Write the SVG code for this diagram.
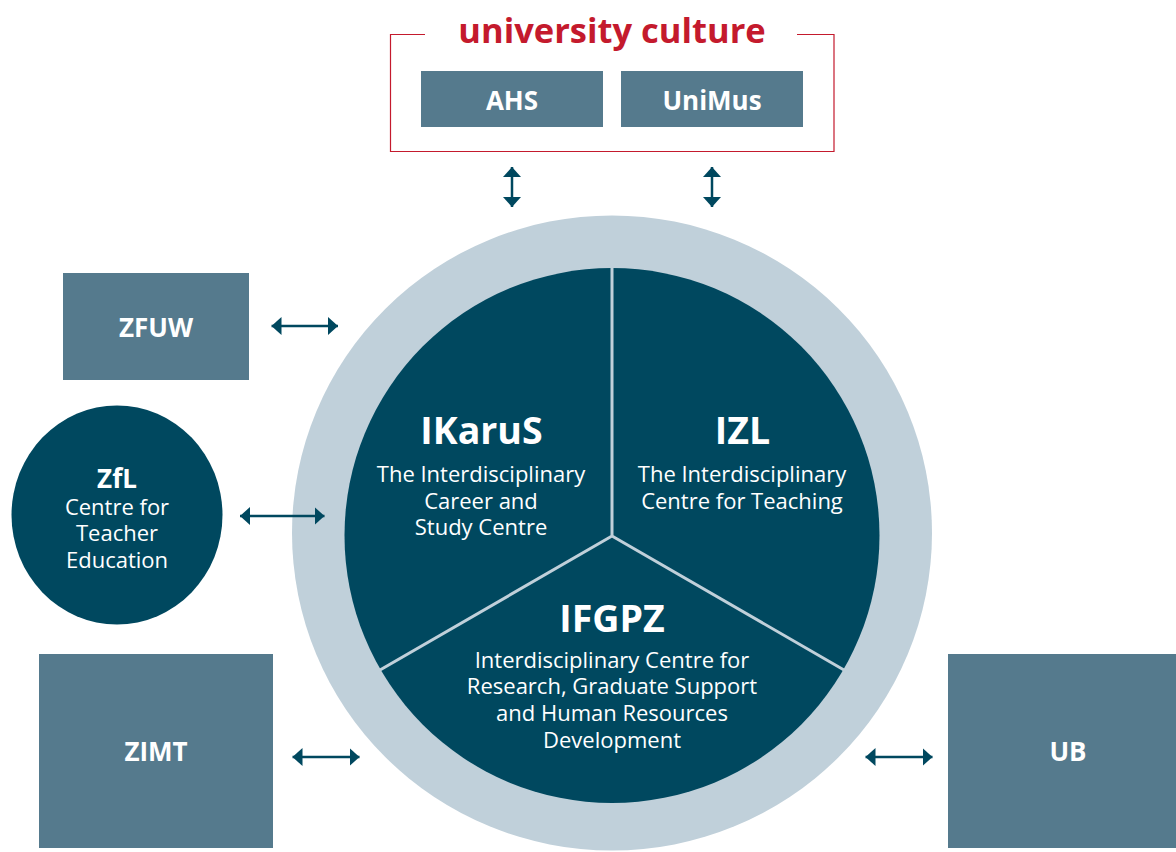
<svg xmlns="http://www.w3.org/2000/svg" width="1176" height="852" viewBox="0 0 1176 852">
<style>
.box{fill:#557a8d}
.dark{fill:#00485f}
.lbl{font-family:"Open Sans","Liberation Sans",sans-serif;fill:#fff;text-anchor:middle}
.b24{font-weight:700;font-size:26px}
.b36{font-weight:700;font-size:37.5px}
.r22{font-weight:400;font-size:22px}
.conn{stroke:#00485f;stroke-width:2.5;fill:none;marker-start:url(#ah);marker-end:url(#ah)}
.sep{stroke:#c0d0da;stroke-width:3;fill:none}
</style>
<defs>
<marker id="ah" viewBox="0 0 10 18" refX="10" refY="9" markerWidth="10" markerHeight="18" markerUnits="userSpaceOnUse" orient="auto-start-reverse">
<path d="M0,0 L10,9 L0,18 Z" fill="#00485f"/>
</marker>
</defs>
<rect width="1176" height="852" fill="#fff"/>

<g id="university-culture">
<path d="M425,34.5 H390.5 V151.5 H834 V34.5 H797" fill="none" stroke="#c41a2d" stroke-width="1.2"/>
<text x="612" y="43" font-family="Open Sans,Liberation Sans,sans-serif" font-weight="700" font-size="34.5" fill="#c41a2d" text-anchor="middle">university culture</text>
</g>
<g id="AHS">
<rect class="box" x="421" y="71" width="182" height="56"/>
<text class="lbl b24" x="512" y="110">AHS</text>
</g>
<g id="UniMus">
<rect class="box" x="621" y="71" width="182" height="56"/>
<text class="lbl b24" x="712" y="110">UniMus</text>
</g>

<g id="core">
<ellipse cx="612" cy="533" rx="320" ry="317.5" fill="#c0d0da"/>
<circle class="dark" cx="612" cy="535.5" r="267.5"/>
<path class="sep" d="M612,536 V268 M612,536 L380,670 M612,536 L844,670"/>
</g>
<g id="IKaruS">
<text class="lbl b36" x="481.5" y="444">IKaruS</text>
<text class="lbl r22" x="481" y="482">The Interdisciplinary</text>
<text class="lbl r22" x="481" y="508.5">Career and</text>
<text class="lbl r22" x="481" y="535">Study Centre</text>
</g>
<g id="IZL">
<text class="lbl b36" x="742.5" y="444">IZL</text>
<text class="lbl r22" x="742" y="482">The Interdisciplinary</text>
<text class="lbl r22" x="742" y="508.5">Centre for Teaching</text>
</g>
<g id="IFGPZ">
<text class="lbl b36" x="612" y="632">IFGPZ</text>
<text class="lbl r22" x="612" y="667.5">Interdisciplinary Centre for</text>
<text class="lbl r22" x="612" y="694">Research, Graduate Support</text>
<text class="lbl r22" x="612" y="721">and Human Resources</text>
<text class="lbl r22" x="612" y="747.5">Development</text>
</g>

<g id="ZFUW">
<rect class="box" x="63" y="273" width="186" height="107"/>
<text class="lbl b24" x="156" y="337">ZFUW</text>
</g>
<g id="ZfL">
<ellipse class="dark" cx="117" cy="515" rx="105.5" ry="109.5"/>
<text class="lbl b24" x="117" y="488">ZfL</text>
<text class="lbl r22" x="117" y="515">Centre for</text>
<text class="lbl r22" x="117" y="541">Teacher</text>
<text class="lbl r22" x="117" y="567.5">Education</text>
</g>
<g id="ZIMT">
<rect class="box" x="39" y="654" width="234" height="194"/>
<text class="lbl b24" x="156" y="761">ZIMT</text>
</g>
<g id="UB">
<rect class="box" x="948" y="654" width="228" height="194"/>
<text class="lbl b24" x="1068" y="761">UB</text>
</g>

<g id="connectors">
<line class="conn" x1="512" y1="167" x2="512" y2="207"/>
<line class="conn" x1="712" y1="167" x2="712" y2="207"/>
<line class="conn" x1="271.5" y1="326" x2="338" y2="326"/>
<line class="conn" x1="240" y1="516" x2="324.5" y2="516"/>
<line class="conn" x1="292.5" y1="757" x2="359.5" y2="757"/>
<line class="conn" x1="865.5" y1="757" x2="932.5" y2="757"/>
</g>
</svg>
